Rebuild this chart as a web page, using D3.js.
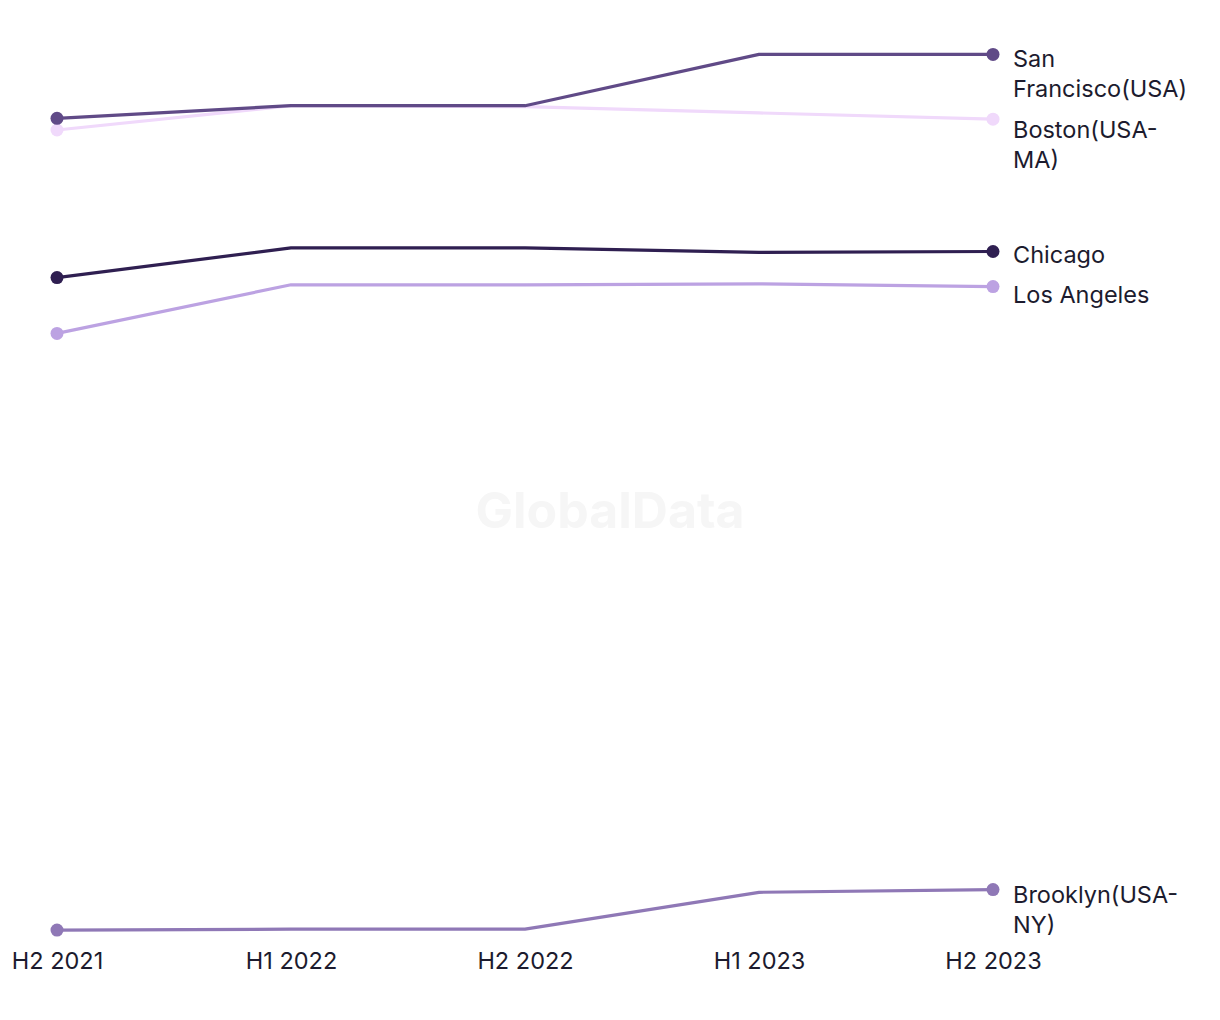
<!DOCTYPE html>
<html>
<head>
<meta charset="utf-8">
<script src="https://cdn.jsdelivr.net/npm/d3@7"></script>
<style>
html,body{margin:0;padding:0;background:#fff;}
svg{display:block;}
text{font-family:Inter,"Noto Sans",sans-serif;}
</style>
</head>
<body>
<svg id="chart" width="1220" height="1020"></svg>
<script>
const periods = ["H2 2021","H1 2022","H2 2022","H1 2023","H2 2023"];
const seriesNames = ["San Francisco(USA)","Boston(USA-MA)","Chicago","Los Angeles","Brooklyn(USA-NY)"];
const labelLines = [["San","Francisco(USA)"],["Boston(USA-","MA)"],["Chicago"],["Los Angeles"],["Brooklyn(USA-","NY)"]];
const seriesColors = ["#604a87","#f0d9fb","#2f1f51","#bca2e2","#8f78b6"];
const sanFrancisco = [91.3, 92.7, 92.7, 98.4, 98.4];
const boston = [90.0, 92.7, 92.6, 91.9, 91.2];
const chicago = [73.6, 76.9, 76.9, 76.4, 76.5];
const losAngeles = [67.4, 72.8, 72.8, 72.9, 72.6];
const brooklyn = [1.1, 1.2, 1.2, 5.3, 5.6];
const seriesValues = [sanFrancisco, boston, chicago, losAngeles, brooklyn];

const svg = d3.select("#chart");
const x = d3.scalePoint().domain(periods).range([57, 993]);
const y = d3.scaleLinear().domain([0, 100]).range([940, 40]);

// label vertical nudges (layout only, px)
const labelNudge = [13, 19, 11, 16, 13];

// watermark
svg.append("text").attr("x", 610).attr("y", 528).attr("text-anchor", "middle")
  .attr("font-size", 50).attr("font-weight", 700).attr("fill", "#f6f6f6")
  .style("font-family", "Inter, sans-serif").text("GlobalData");

// x axis
const xAxis = d3.axisBottom(x).tickSize(0).tickPadding(0);
const gx = svg.append("g").attr("transform", "translate(0,952)").call(xAxis);
gx.select(".domain").remove();
gx.selectAll("text").attr("font-size", 23.5).attr("fill", "#1c1b2e")
  .style("font-family", "Inter, 'Noto Sans', sans-serif").attr("dy", "0.71em");

const line = d3.line().x((d, i) => x(periods[i])).y(d => y(d));

// draw lines in order so SF sits above Boston
const order = [4, 3, 2, 1, 0];
order.forEach(k => {
  const vals = seriesValues[k];
  const g = svg.append("g");
  g.append("path").datum(vals).attr("d", line).attr("fill", "none")
    .attr("stroke", seriesColors[k]).attr("stroke-width", 3.2).attr("stroke-linejoin", "round");
  [0, vals.length - 1].forEach(i => {
    g.append("circle").attr("cx", x(periods[i])).attr("cy", y(vals[i])).attr("r", 6.5)
      .attr("fill", seriesColors[k]);
  });
  const last = vals[vals.length - 1];
  const lx = x(periods[periods.length - 1]) + 20;
  const t = g.append("text").attr("x", lx)
    .attr("y", y(last) + labelNudge[k]).attr("font-size", 23.5).attr("fill", "#1c1b2e");
  labelLines[k].forEach((ln, j) => {
    t.append("tspan").attr("x", lx).attr("dy", j === 0 ? 0 : 30).text(ln);
  });
});
</script>
</body>
</html>
